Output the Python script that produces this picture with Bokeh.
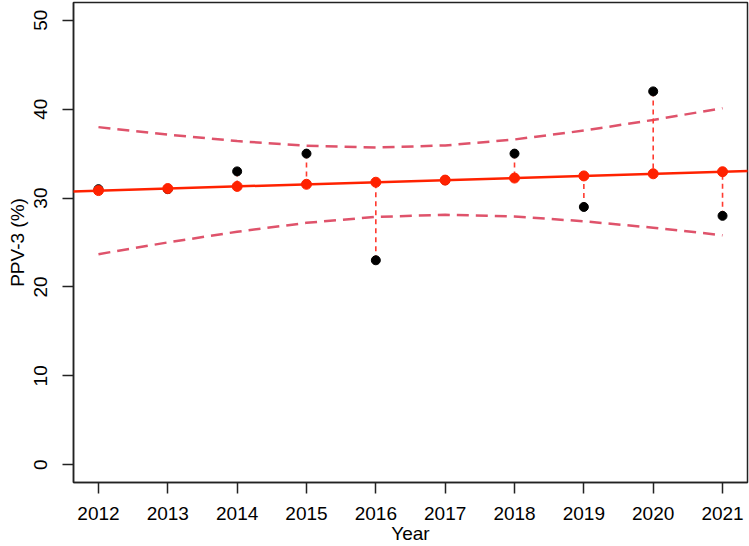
from bokeh.plotting import figure
from bokeh.models import Range1d, FixedTicker, Slope
from bokeh.embed import file_html
from bokeh.resources import INLINE

years = [2012, 2013, 2014, 2015, 2016, 2017, 2018, 2019, 2020, 2021]
observed = [31, 31, 33, 35, 23, 32, 35, 29, 42, 28]
fitted = [30.84, 31.07, 31.31, 31.55, 31.78, 32.02, 32.25, 32.49, 32.73, 32.96]
upper = [37.98, 37.13, 36.41, 35.88, 35.68, 35.92, 36.59, 37.59, 38.79, 40.11]
lower = [23.69, 25.01, 26.21, 27.21, 27.88, 28.12, 27.92, 27.39, 26.67, 25.82]
fit_slope = 0.23636
fit_intercept = -444.72
y_ticks = [0, 10, 20, 30, 40, 50]

FONT = "Liberation Sans"

p = figure(width=749, height=546, output_backend="svg", toolbar_location=None,
           x_range=Range1d(2011.64, 2021.36), y_range=Range1d(-2.0, 52.0),
           min_border_left=73, min_border_right=2, min_border_top=2, min_border_bottom=63)
p.xgrid.visible = False
p.ygrid.visible = False
p.outline_line_color = "#222222"
p.outline_line_width = 1.5
p.background_fill_color = "white"
p.border_fill_color = "white"

for ax in (p.xaxis[0], p.yaxis[0]):
    ax.axis_line_color = "#222222"
    ax.axis_line_width = 1.5
    ax.major_tick_out = 11
    ax.major_tick_in = 0
    ax.major_tick_line_color = "#222222"
    ax.major_tick_line_width = 1.5
    ax.minor_tick_line_color = None
    ax.major_label_text_font = FONT
    ax.major_label_text_font_size = "19px"
    ax.major_label_text_color = "#000000"
    ax.axis_label_text_font = FONT
    ax.axis_label_text_font_size = "19px"
    ax.axis_label_text_font_style = "normal"
    ax.axis_label_text_color = "#000000"

p.xaxis.ticker = FixedTicker(ticks=years)
p.yaxis.ticker = FixedTicker(ticks=y_ticks)
p.yaxis.major_label_orientation = "vertical"
p.xaxis.major_label_standoff = 13
p.yaxis.major_label_standoff = 15
p.xaxis.axis_label = "Year"
p.yaxis.axis_label = "PPV-3 (%)"
p.xaxis.axis_label_standoff = 0
p.yaxis.axis_label_standoff = 4

# confidence bands
p.line(years, upper, line_color="#DF536B", line_width=2.5, line_dash="12 7")
p.line(years, lower, line_color="#DF536B", line_width=2.5, line_dash="12 7")

# residual segments
p.segment(x0=years, y0=observed, x1=years, y1=fitted, line_color="#FF3B30",
          line_width=1.6, line_dash="5 4")

# regression line
p.add_layout(Slope(gradient=fit_slope, y_intercept=fit_intercept,
                   line_color="#FF2200", line_width=2.5))

p.scatter(years, observed, size=9, fill_color="black", line_color="black")
p.scatter(years, fitted, size=10, fill_color="#FF2200", line_color="#FF2200")

open("out.html", "w").write(file_html(p, INLINE))
